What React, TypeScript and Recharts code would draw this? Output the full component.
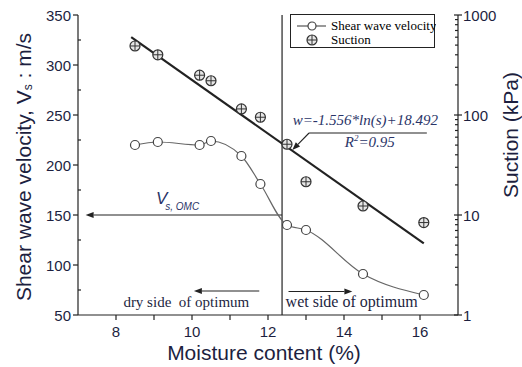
import React from 'react';
import {
    ComposedChart,
    Line,
    Scatter,
    XAxis,
    YAxis,
    Legend,
    ReferenceLine,
    ReferenceDot,
} from 'recharts';

// moisture content (%) of each test point
const moisture = [8.5, 9.1, 10.2, 10.5, 11.3, 11.8, 12.5, 13.0, 14.5, 16.1];
// shear wave velocity Vs (m/s)
const shearVelocity = [220, 223, 220, 224, 209, 181, 140, 135, 91, 70];
// suction (kPa)
const suction = [490, 400, 250, 220, 115, 95, 51, 21.5, 12.3, 8.4];
// end points of the fitted line w = -1.556 ln(s) + 18.492
const fitMoisture = [8.4, 16.1];
const fitSuction = [600, 5.2];

const xTicks = [8, 9, 10, 11, 12, 13, 14, 15, 16];
const vsTicks = [50, 75, 100, 125, 150, 175, 200, 225, 250, 275, 300, 325, 350];
const suctionTicks = [
    1, 2, 3, 4, 5, 6, 7, 8, 9,
    10, 20, 30, 40, 50, 60, 70, 80, 90,
    100, 200, 300, 400, 500, 600, 700, 800, 900, 1000,
];

const vsData = moisture.map((x, i) => ({ x, vs: shearVelocity[i] }));
const suctionData = moisture.map((x, i) => ({ x, s: suction[i] }));
const fitData = fitMoisture.map((x, i) => ({ x, s: fitSuction[i] }));

const INK = '#222';
const LABEL = '#1d1f3f';
const NOTE = '#2a3468';
const SANS = '"Liberation Sans", Arial, sans-serif';
const SERIF = '"Liberation Serif", "Times New Roman", serif';

const XTick = ({ x, y, payload }: any) => (
    <g>
        <line x1={x} x2={x} y1={y} y2={y + 5} stroke={INK} strokeWidth={1.2} />
        {payload.value % 2 === 0 && (
            <text x={x} y={y + 22} textAnchor="middle" fontSize={15} fontFamily={SANS} fill={LABEL}>
                {payload.value}
            </text>
        )}
    </g>
);

const TopTick = ({ x, y }: any) => (
    <line x1={x} x2={x} y1={y} y2={y + 4} stroke={INK} strokeWidth={1.2} />
);

const LeftTick = ({ x, y, payload }: any) => {
    const major = payload.value % 50 === 0;
    return (
        <g>
            {major ? (
                <line x1={x - 5} x2={x} y1={y} y2={y} stroke={INK} strokeWidth={1.2} />
            ) : (
                <line x1={x} x2={x + 3} y1={y} y2={y} stroke={INK} strokeWidth={1.2} />
            )}
            {major && (
                <text x={x - 7} y={y + 5.5} textAnchor="end" fontSize={15} fontFamily={SANS} fill={LABEL}>
                    {payload.value}
                </text>
            )}
        </g>
    );
};

const RightTick = ({ x, y, payload }: any) => {
    const major = [1, 10, 100, 1000].includes(payload.value);
    return (
        <g>
            {major ? (
                <line x1={x - 4} x2={x + 4} y1={y} y2={y} stroke={INK} strokeWidth={1.2} />
            ) : (
                <line x1={x - 3} x2={x} y1={y} y2={y} stroke={INK} strokeWidth={1.2} />
            )}
            {major && (
                <text x={x + 5} y={y + 5.5} textAnchor="start" fontSize={15} fontFamily={SANS} fill={LABEL}>
                    {payload.value}
                </text>
            )}
        </g>
    );
};

const SuctionMark = ({ cx, cy }: any) => (
    <g>
        <circle cx={cx} cy={cy} r={5} fill="#e6e6e6" stroke="#333" strokeWidth={1.2} />
        <line x1={cx - 5} x2={cx + 5} y1={cy} y2={cy} stroke="#333" strokeWidth={1} />
        <line x1={cx} x2={cx} y1={cy - 5} y2={cy + 5} stroke="#333" strokeWidth={1} />
    </g>
);

// line with a filled head at its second end point
const arrow = (width = 1.2) => (p: any) => {
    const { x1, y1, x2, y2 } = p;
    const a = Math.atan2(y2 - y1, x2 - x1);
    const len = 8;
    const half = 3;
    const bx = x2 - len * Math.cos(a);
    const by = y2 - len * Math.sin(a);
    const pts = [
        `${x2},${y2}`,
        `${bx - half * Math.sin(a)},${by + half * Math.cos(a)}`,
        `${bx + half * Math.sin(a)},${by - half * Math.cos(a)}`,
    ].join(' ');
    return (
        <g>
            <line x1={x1} y1={y1} x2={bx} y2={by} stroke={INK} strokeWidth={width} />
            <polygon points={pts} fill={INK} />
        </g>
    );
};

const LegendBox = () => (
    <div
        style={{
            width: 145,
            height: 34,
            border: `1px solid ${INK}`,
            background: '#fff',
            fontFamily: SERIF,
            fontSize: 13,
            color: LABEL,
            boxSizing: 'border-box',
        }}
    >
        <svg width={145} height={32}>
            <line x1={6} x2={35} y1={11} y2={11} stroke="#555" strokeWidth={1.2} />
            <circle cx={21} cy={11} r={4} fill="#fff" stroke="#444" strokeWidth={1.2} />
            <text x={40} y={15}>Shear wave velocity</text>
            <SuctionMark cx={21} cy={25} />
            <text x={40} y={29}>Suction</text>
        </svg>
    </div>
);

export default function App() {
    return (
        <div style={{ position: 'absolute', left: 0, top: 0, background: '#fff' }}>
            <ComposedChart
                width={522}
                height={367}
                margin={{ top: 15, right: 8, bottom: 12, left: 8 }}
            >
                <XAxis
                    dataKey="x"
                    type="number"
                    domain={[7, 17]}
                    ticks={xTicks}
                    interval={0}
                    tickSize={0}
                    tickMargin={0}
                    tick={<XTick />}
                    height={40}
                    axisLine={{ stroke: INK, strokeWidth: 1.2 }}
                    allowDataOverflow
                    label={{
                        content: () => (
                            <text x={264} y={360} textAnchor="middle" fontSize={21} fontFamily={SANS} fill={LABEL}>
                                Moisture content (%)
                            </text>
                        ),
                    }}
                />
                <XAxis
                    xAxisId="top"
                    orientation="top"
                    type="number"
                    domain={[7, 17]}
                    ticks={xTicks}
                    interval={0}
                    tickSize={0}
                    tickMargin={0}
                    tick={<TopTick />}
                    height={0}
                    axisLine={{ stroke: INK, strokeWidth: 1.2 }}
                    allowDataOverflow
                />
                <YAxis
                    yAxisId="left"
                    type="number"
                    domain={[50, 350]}
                    ticks={vsTicks}
                    interval={0}
                    tickSize={0}
                    tickMargin={0}
                    tick={<LeftTick />}
                    width={70}
                    axisLine={{ stroke: INK, strokeWidth: 1.2 }}
                    allowDataOverflow
                    label={{
                        content: () => (
                            <text
                                x={23}
                                y={167}
                                transform="rotate(-90, 23, 167)"
                                textAnchor="middle"
                                dominantBaseline="central"
                                fontSize={21}
                                fontFamily={SANS}
                                fill={LABEL}
                            >
                                Shear wave velocity, V
                                <tspan fontSize={12} dy={5}>s</tspan>
                                <tspan dy={-5}> : m/s</tspan>
                            </text>
                        ),
                    }}
                />
                <YAxis
                    yAxisId="right"
                    orientation="right"
                    scale="log"
                    type="number"
                    domain={[1, 1000]}
                    ticks={suctionTicks}
                    interval={0}
                    tickSize={0}
                    tickMargin={0}
                    tick={<RightTick />}
                    width={56}
                    axisLine={{ stroke: INK, strokeWidth: 1.2 }}
                    allowDataOverflow
                    label={{
                        content: () => (
                            <text
                                x={510}
                                y={135}
                                transform="rotate(-90, 510, 135)"
                                textAnchor="middle"
                                dominantBaseline="central"
                                fontSize={21}
                                fontFamily={SANS}
                                fill={LABEL}
                            >
                                Suction (kPa)
                            </text>
                        ),
                    }}
                />

                {/* optimum moisture content divider and annotations */}
                <ReferenceLine yAxisId="left" x={12.37} stroke={INK} strokeWidth={1.2} />
                <ReferenceLine
                    yAxisId="left"
                    segment={[{ x: 12.37, y: 150 }, { x: 7.2, y: 150 }]}
                    shape={arrow()}
                />
                <ReferenceLine
                    yAxisId="left"
                    segment={[{ x: 11.77, y: 74 }, { x: 10.05, y: 74 }]}
                    shape={arrow()}
                />
                <ReferenceLine
                    yAxisId="left"
                    segment={[{ x: 12.54, y: 73.5 }, { x: 14.22, y: 73.5 }]}
                    shape={arrow()}
                />
                <ReferenceLine
                    yAxisId="left"
                    segment={[{ x: 16.18, y: 232 }, { x: 13.08, y: 232 }]}
                    stroke={INK}
                    strokeWidth={1.1}
                />
                <ReferenceLine
                    yAxisId="left"
                    segment={[{ x: 13.08, y: 232 }, { x: 12.64, y: 215 }]}
                    shape={arrow(1.1)}
                />
                <ReferenceDot
                    yAxisId="left"
                    x={9.85}
                    y={58}
                    r={0}
                    ifOverflow="visible"
                    shape={(p: any) => (
                        <text x={p.cx} y={p.cy} textAnchor="middle" fontSize={15} fontFamily={SERIF} fill={LABEL}>
                            dry side {'\u00a0'}of optimum
                        </text>
                    )}
                />
                <ReferenceDot
                    yAxisId="left"
                    x={14.2}
                    y={58}
                    r={0}
                    ifOverflow="visible"
                    shape={(p: any) => (
                        <text x={p.cx} y={p.cy} textAnchor="middle" fontSize={16} fontFamily={SERIF} fill={LABEL}>
                            wet side of optimum
                        </text>
                    )}
                />
                <ReferenceDot
                    yAxisId="left"
                    x={14.56}
                    y={240}
                    r={0}
                    ifOverflow="visible"
                    shape={(p: any) => (
                        <text x={p.cx} y={p.cy} textAnchor="middle" fontSize={15} fontStyle="italic" fontFamily={SERIF} fill={NOTE}>
                            w=-1.556*ln(s)+18.492
                        </text>
                    )}
                />
                <ReferenceDot
                    yAxisId="left"
                    x={14.68}
                    y={218}
                    r={0}
                    ifOverflow="visible"
                    shape={(p: any) => (
                        <text x={p.cx} y={p.cy} textAnchor="middle" fontSize={15} fontStyle="italic" fontFamily={SERIF} fill={NOTE}>
                            R<tspan fontSize={9} dy={-6}>2</tspan>
                            <tspan dy={6}>=0.95</tspan>
                        </text>
                    )}
                />
                <ReferenceDot
                    yAxisId="left"
                    x={9.05}
                    y={161.5}
                    r={0}
                    ifOverflow="visible"
                    shape={(p: any) => (
                        <text x={p.cx} y={p.cy} fontStyle="italic" fontFamily={SANS} fill={NOTE}>
                            <tspan fontSize={17}>V</tspan>
                            <tspan fontSize={10} dx={-2} dy={6}>s, OMC</tspan>
                        </text>
                    )}
                />

                <Line
                    yAxisId="right"
                    data={fitData}
                    dataKey="s"
                    type="linear"
                    stroke={INK}
                    strokeWidth={2.2}
                    dot={false}
                    activeDot={false}
                    isAnimationActive={false}
                />
                <Line
                    yAxisId="left"
                    data={vsData}
                    dataKey="vs"
                    type="monotone"
                    stroke="#666"
                    strokeWidth={1.2}
                    dot={{ r: 4.5, fill: '#fff', stroke: '#444', strokeWidth: 1.2 }}
                    activeDot={false}
                    isAnimationActive={false}
                />
                <Scatter
                    yAxisId="right"
                    data={suctionData}
                    dataKey="s"
                    shape={<SuctionMark />}
                    isAnimationActive={false}
                />
                <Legend
                    layout="vertical"
                    align="center"
                    verticalAlign="middle"
                    content={() => <LegendBox />}
                    wrapperStyle={{ left: 290, top: 14, width: 145, height: 34 }}
                />
            </ComposedChart>
        </div>
    );
}
